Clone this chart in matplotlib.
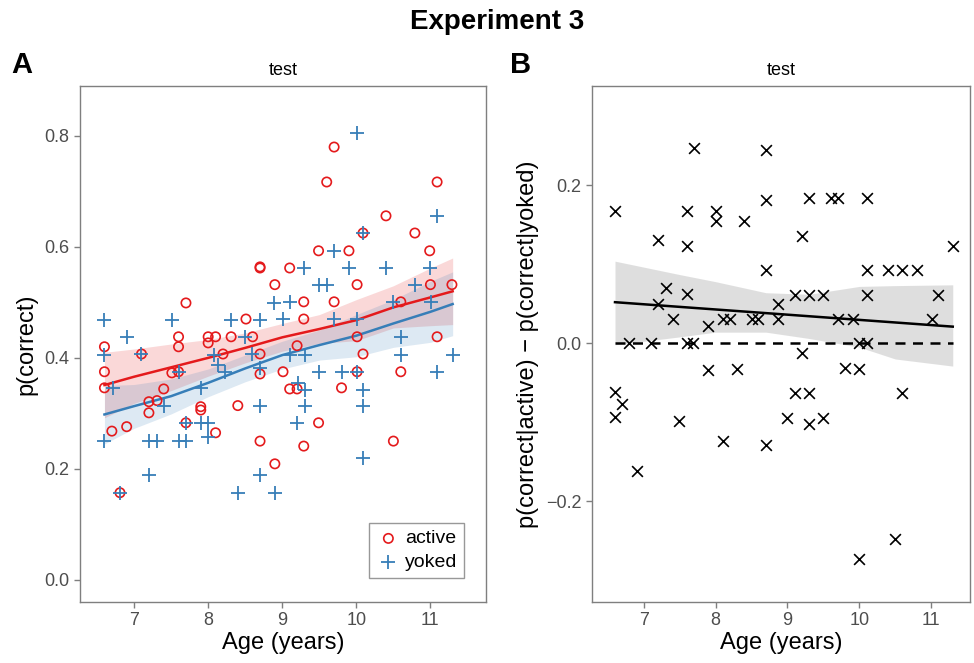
import numpy as np
import matplotlib
matplotlib.use("Agg")
import matplotlib.pyplot as plt

plt.rcParams['font.family'] = ['Liberation Sans', 'DejaVu Sans']

# panel A: p(correct) by age, active vs yoked
active_age = [8.70, 8.70, 8.90, 7.70, 8.51, 7.60, 8.00, 8.10, 8.31, 8.60,
              9.70, 9.60, 11.09, 10.40, 10.09, 10.79, 9.49, 9.90, 10.99, 9.10,
              10.01, 11.00, 11.29, 9.29, 9.70, 10.60, 9.29, 10.01, 11.09, 9.20,
              6.60, 7.60, 7.10, 8.20, 8.70, 6.60, 7.51, 7.60, 8.70, 6.60,
              7.40, 7.20, 7.31, 7.20, 7.90, 7.90, 8.40, 7.70, 6.70, 6.90,
              8.10, 8.70, 8.90, 6.81, 10.09, 9.01, 10.01, 10.60, 9.10, 9.20,
              9.80, 9.49, 9.29, 10.50, 8.00]
active_p = [0.564, 0.562, 0.532, 0.499, 0.470, 0.438, 0.438, 0.438, 0.438, 0.438,
            0.780, 0.717, 0.717, 0.656, 0.625, 0.625, 0.593, 0.593, 0.593, 0.562,
            0.532, 0.532, 0.532, 0.501, 0.501, 0.501, 0.470, 0.438, 0.438, 0.422,
            0.420, 0.420, 0.407, 0.407, 0.407, 0.375, 0.373, 0.375, 0.371, 0.346,
            0.344, 0.321, 0.323, 0.301, 0.312, 0.306, 0.314, 0.283, 0.268, 0.276,
            0.265, 0.250, 0.209, 0.157, 0.407, 0.375, 0.375, 0.375, 0.344, 0.344,
            0.346, 0.283, 0.241, 0.250, 0.427]

yoked_age = [6.60, 7.51, 8.31, 8.70, 8.89, 6.90, 8.50, 10.01, 11.09, 10.09,
             9.70, 9.29, 9.90, 10.40, 11.00, 9.49, 9.60, 10.79, 9.10, 10.50,
             11.01, 9.01, 9.70, 10.01, 10.60, 6.60, 7.10, 8.08, 8.59, 7.60,
             8.13, 8.23, 8.70, 6.71, 7.90, 7.40, 8.70, 7.70, 7.90, 8.00,
             8.00, 6.60, 7.20, 7.31, 7.60, 7.70, 7.20, 8.70, 6.81, 8.40,
             8.90, 9.10, 9.31, 10.60, 11.31, 9.49, 9.80, 10.01, 11.09, 9.21,
             9.31, 10.09, 9.31, 10.09, 9.20, 10.09]
yoked_p = [0.468, 0.468, 0.468, 0.468, 0.499, 0.438, 0.438, 0.805, 0.656, 0.625,
           0.593, 0.562, 0.562, 0.562, 0.562, 0.532, 0.532, 0.532, 0.501, 0.501,
           0.501, 0.470, 0.470, 0.470, 0.438, 0.405, 0.407, 0.405, 0.407, 0.375,
           0.387, 0.375, 0.382, 0.346, 0.346, 0.314, 0.314, 0.283, 0.283, 0.283,
           0.258, 0.250, 0.250, 0.250, 0.250, 0.250, 0.189, 0.189, 0.157, 0.157,
           0.157, 0.405, 0.405, 0.405, 0.405, 0.375, 0.375, 0.375, 0.375, 0.355,
           0.342, 0.342, 0.314, 0.314, 0.283, 0.220]

# smoothed fits and ribbons
fit_age = [6.6, 7.0, 7.5, 8.0, 8.5, 9.0, 9.5, 10.0, 10.5, 11.0, 11.3]
active_fit = [0.351, 0.366, 0.383, 0.400, 0.418, 0.437, 0.452, 0.468, 0.491, 0.509, 0.520]
active_hi = [0.410, 0.416, 0.425, 0.433, 0.445, 0.462, 0.478, 0.505, 0.530, 0.562, 0.580]
active_lo = [0.292, 0.318, 0.341, 0.367, 0.391, 0.412, 0.426, 0.431, 0.454, 0.458, 0.460]
yoked_fit = [0.298, 0.313, 0.331, 0.355, 0.381, 0.405, 0.423, 0.440, 0.462, 0.483, 0.497]
yoked_hi = [0.350, 0.352, 0.362, 0.380, 0.405, 0.430, 0.450, 0.478, 0.505, 0.538, 0.555]
yoked_lo = [0.245, 0.273, 0.299, 0.330, 0.357, 0.380, 0.396, 0.402, 0.419, 0.428, 0.440]

# panel B: difference active - yoked
diff_age = [6.60, 6.60, 6.70, 6.60, 6.80, 7.10, 6.91, 7.20, 7.31, 7.20,
            7.41, 7.49, 7.60, 7.60, 7.60, 7.60, 7.69, 7.70, 7.89, 7.89,
            8.01, 8.01, 8.10, 8.20, 8.10, 8.30, 8.40, 8.51, 8.59, 8.70,
            8.70, 8.70, 8.70, 8.87, 8.87, 8.99, 9.10, 9.10, 9.20, 9.20,
            9.30, 9.30, 9.30, 9.30, 9.49, 9.49, 9.61, 9.70, 9.70, 9.80,
            9.91, 10.00, 10.00, 10.00, 10.11, 10.11, 10.11, 10.11, 10.40, 10.49,
            10.59, 10.59, 10.80, 11.01, 11.09, 11.30]
diff_val = [0.168, -0.062, -0.077, -0.093, 0.0, 0.0, -0.162, 0.131, 0.070, 0.050,
            0.031, -0.099, 0.168, 0.123, 0.063, 0.0, 0.0, 0.248, 0.022, -0.034,
            0.168, 0.155, 0.031, 0.031, -0.124, -0.033, 0.155, 0.031, 0.031, 0.245,
            0.181, 0.093, -0.129, 0.050, 0.031, -0.095, 0.061, -0.063, 0.136, -0.012,
            0.184, 0.061, -0.063, -0.102, 0.061, -0.095, 0.184, 0.184, 0.031, -0.031,
            0.031, 0.0, -0.033, -0.273, 0.184, 0.093, 0.061, 0.0, 0.093, -0.248,
            0.093, -0.063, 0.093, 0.031, 0.061, 0.123]

diff_fit_age = [6.6, 11.3]
diff_fit = [0.052, 0.021]
band_age = [6.6, 7.5, 8.0, 8.7, 9.3, 10.0, 10.5, 11.3]
band_hi = [0.104, 0.087, 0.078, 0.064, 0.062, 0.072, 0.073, 0.074]
band_lo = [-0.002, 0.008, 0.014, 0.014, 0.006, -0.005, -0.020, -0.029]

red = '#E41A1C'
blue = '#377EB8'
grey_txt = '#4D4D4D'
grey_line = '#7F7F7F'

fig = plt.figure(figsize=(9.74, 6.63), dpi=100)
axA = fig.add_axes([80 / 974, 61 / 663, 406 / 974, 516 / 663])
axB = fig.add_axes([592 / 974, 61 / 663, 378 / 974, 516 / 663])

# --- panel A ---
axA.fill_between(fit_age, active_lo, active_hi, color=red, alpha=0.17, lw=0)
axA.fill_between(fit_age, yoked_lo, yoked_hi, color=blue, alpha=0.17, lw=0)
axA.plot(fit_age, active_fit, color=red, lw=1.8)
axA.plot(fit_age, yoked_fit, color=blue, lw=1.8)

axA.scatter(active_age, active_p, s=45, facecolors='none', edgecolors=red,
            linewidths=1.2, label='active', zorder=3)
axA.scatter(yoked_age, yoked_p, s=110, marker='+', color=blue,
            linewidths=1.3, label='yoked', zorder=3)
axA.set_xlim(6.27, 11.75)
axA.set_ylim(-0.04, 0.89)
axA.set_yticks([0.0, 0.2, 0.4, 0.6, 0.8])
axA.set_xlabel('Age (years)', fontsize=17, labelpad=2)
axA.set_ylabel('p(correct)', fontsize=17, labelpad=5)
leg = axA.legend(loc='lower right', fontsize=14, frameon=True, fancybox=False,
                 borderpad=0.35, handletextpad=0.2, borderaxespad=0,
                 bbox_to_anchor=(0.946, 0.047), handlelength=1.3, labelspacing=0.3)
leg.get_frame().set_edgecolor(grey_line)
leg.get_frame().set_linewidth(1.0)

# --- panel B ---
axB.fill_between(band_age, band_lo, band_hi, color='#BFBFBF', alpha=0.5, lw=0)
axB.plot([min(diff_age), max(diff_age)], [0, 0], color='black', lw=1.8, ls=(0, (4, 3)))
axB.plot(diff_fit_age, diff_fit, color='black', lw=1.8)
axB.scatter(diff_age, diff_val, s=60, marker='x', color='black', linewidths=1.2, zorder=3)
axB.set_xlim(6.28, 11.54)
axB.set_ylim(-0.328, 0.326)
axB.set_yticks([-0.2, 0.0, 0.2])
axB.set_yticklabels(['\u22120.2', '0.0', '0.2'])
axB.set_xlabel('Age (years)', fontsize=17, labelpad=2)
axB.set_ylabel('p(correct|active) \u2212 p(correct|yoked)', fontsize=17, labelpad=5)

for ax in (axA, axB):
    ax.set_xticks([7, 8, 9, 10, 11])
    for sp in ax.spines.values():
        sp.set_color(grey_line)
        sp.set_linewidth(1.0)
    ax.tick_params(colors=grey_line, labelcolor=grey_txt, labelsize=13, length=4, width=1)
    ax.set_title('test', fontsize=13, pad=8)

fig.text(497 / 974, 1 - 22 / 663, 'Experiment 3', ha='center', va='center',
         fontsize=20, fontweight='bold')
fig.text(22 / 974, 1 - 65 / 663, 'A', ha='center', va='center', fontsize=21, fontweight='bold')
fig.text(521 / 974, 1 - 65 / 663, 'B', ha='center', va='center', fontsize=21, fontweight='bold')

fig.savefig('out.png', dpi=100)
